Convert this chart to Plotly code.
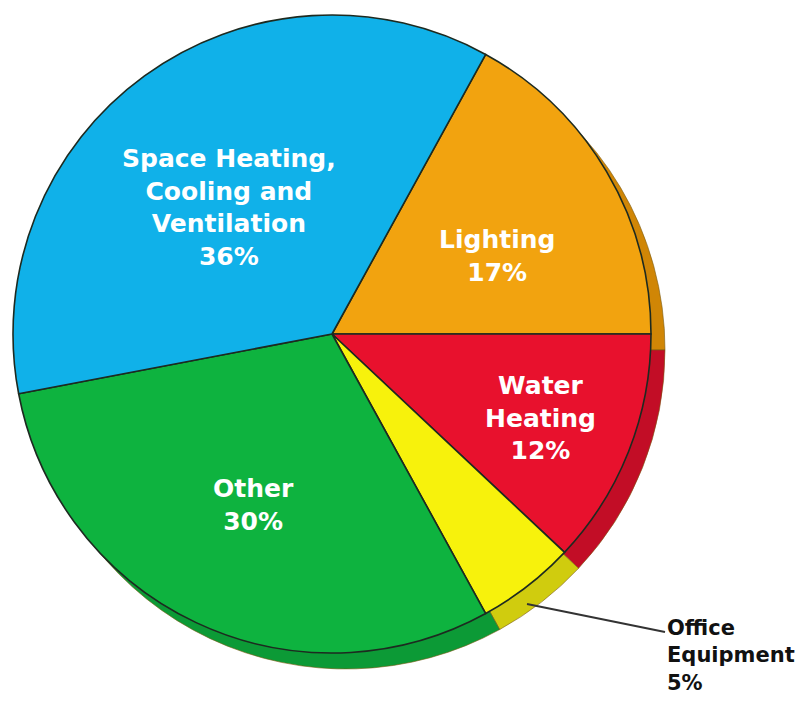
import plotly.graph_objects as go

# ---- data ----
categories = ["Lighting", "Water Heating", "Office Equipment", "Other",
              "Space Heating, Cooling and Ventilation"]
shares = [17, 12, 5, 30, 36]
label_lines = ["Lighting<br>17%", "Water<br>Heating<br>12%", "Office<br>Equipment<br>5%",
               "Other<br>30%", "Space Heating,<br>Cooling and<br>Ventilation<br>36%"]

# ---- styles ----
main_colors = ["#F2A30F", "#E8112D", "#F7F20C", "#0EB33F", "#10B1E9"]
shadow_colors = ["#D08606", "#C20D26", "#D0CC0E", "#0C9A36", "#0C96C8"]

W, H = 801, 708


def px_dom(cx, cy, r):
    return dict(x=[(cx - r) / W, (cx + r) / W], y=[1 - (cy + r) / H, 1 - (cy - r) / H])


fig = go.Figure()
fig.add_trace(go.Pie(
    labels=categories, values=shares, sort=False, direction="clockwise", rotation=28.8,
    marker=dict(colors=shadow_colors, line=dict(color="#7a5a10", width=0.6)),
    textinfo="none", hoverinfo="skip", domain=px_dom(346, 350, 319), showlegend=False,
))
fig.add_trace(go.Pie(
    labels=categories, values=shares, sort=False, direction="clockwise", rotation=28.8,
    marker=dict(colors=main_colors, line=dict(color="#1d2a20", width=1.6)),
    textinfo="none", domain=px_dom(332, 334, 319), showlegend=False,
))

# label placement (pixels) and sizes
label_pos = [(497, 256, "center", 25), (540, 418, "center", 25), (665, 655, "left", 21),
             (253, 505, "center", 25), (229, 207, "center", 25)]
for txt, (x, y, anc, sz) in zip(label_lines, label_pos):
    dark = anc == "left"
    fig.add_annotation(
        x=x / W, y=1 - y / H, xref="paper", yref="paper", text=txt, showarrow=False,
        xanchor=anc, yanchor="middle", align=anc,
        font=dict(family="DejaVu Sans", size=sz, weight="bold",
                  color="#111111" if dark else "#ffffff"),
    )

# leader line for Office Equipment
fig.add_shape(type="line", xref="paper", yref="paper",
              x0=527 / W, y0=1 - 604 / H, x1=665 / W, y1=1 - 632 / H,
              line=dict(color="#333333", width=2))

fig.update_layout(width=W, height=H, margin=dict(l=0, r=0, t=0, b=0),
                  paper_bgcolor="white", plot_bgcolor="white", showlegend=False)
fig.write_html("out.html")
